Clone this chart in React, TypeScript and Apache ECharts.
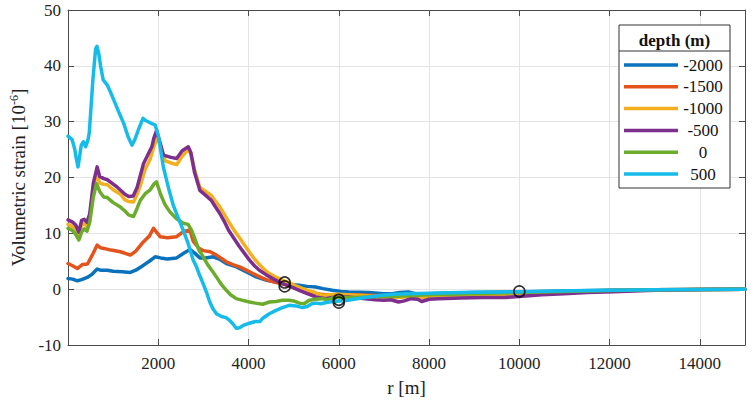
import React, { useEffect, useRef } from "react";
import * as echarts from "echarts";

const FONT = "Liberation Serif";

const depthNames = ["-2000", "-1500", "-1000", "-500", "0", "500"];
const depthColors = ["#0a72bd", "#e4531c", "#f2b01e", "#7e2f8e", "#6cac2c", "#16bce9"];

const xTicksHidden = [0, 15000];

const depthM2000: [number, number][] = [
  [0, 1.9], [100, 1.8], [205, 1.5], [300, 1.7], [425, 2.1], [520, 2.6], [645, 3.6], [720, 3.4],
  [865, 3.4], [1000, 3.2], [1200, 3.1], [1380, 3.0], [1500, 3.4], [1673, 4.3], [1800, 5.0],
  [1930, 5.8], [2050, 5.6], [2200, 5.4], [2406, 5.6], [2553, 6.4], [2700, 7.1], [2800, 6.5],
  [2920, 5.6], [3050, 5.6], [3213, 5.8], [3350, 5.4], [3507, 4.6], [3700, 4.1], [3874, 3.4],
  [4020, 2.8], [4167, 2.2], [4400, 1.6], [4607, 1.3], [4850, 0.9], [5122, 0.7], [5300, 0.5],
  [5488, 0.4], [5650, 0.1], [5855, -0.2], [6050, -0.4], [6222, -0.5], [6662, -0.6], [7000, -0.8],
  [7176, -0.8], [7350, -0.6], [7543, -0.5], [7700, -0.8], [7836, -1.0], [8000, -0.8], [8500, -0.7],
  [9000, -0.6], [10000, -0.5], [11000, -0.35], [12000, -0.2], [13000, -0.1], [14000, -0.05], [15000, 0]
];

const depthM1500: [number, number][] = [
  [0, 4.6], [100, 4.2], [205, 3.7], [315, 4.4], [430, 4.5], [530, 6.0], [645, 7.9], [720, 7.4],
  [792, 7.3], [950, 7.0], [1160, 6.7], [1380, 6.1], [1500, 6.8], [1673, 8.5], [1800, 9.5],
  [1893, 10.9], [2040, 9.4], [2200, 9.2], [2406, 9.4], [2553, 10.3], [2700, 10.6], [2773, 8.6],
  [2900, 7.3], [2993, 6.9], [3150, 6.7], [3287, 6.1], [3400, 5.5], [3507, 4.9], [3650, 4.4],
  [3800, 4.0], [3950, 3.4], [4094, 2.8], [4250, 2.2], [4387, 1.7], [4550, 1.3], [4754, 0.9],
  [4950, 0.5], [5122, 0.0], [5300, -0.4], [5488, -0.8], [5700, -1.0], [6000, -1.0], [6300, -1.0],
  [6660, -1.1], [7000, -1.2], [7300, -1.3], [7600, -1.1], [7850, -1.3], [8000, -1.1], [9000, -0.9],
  [10000, -0.7], [11000, -0.45], [12000, -0.25], [13000, -0.1], [14000, -0.05], [15000, 0]
];

const depthM1000: [number, number][] = [
  [0, 11.6], [100, 11.2], [170, 10.8], [240, 9.6], [300, 11.5], [360, 11.8], [420, 11.2], [480, 12.8],
  [560, 18.0], [630, 20.8], [700, 19.0], [790, 18.8], [870, 18.7], [1000, 17.8], [1160, 17.0],
  [1260, 16.0], [1340, 15.7], [1450, 15.6], [1530, 17.0], [1600, 18.5], [1710, 21.5], [1820, 23.3],
  [1900, 25.5], [1980, 27.2], [2060, 25.5], [2150, 23.0], [2280, 22.6], [2405, 22.3], [2530, 23.8],
  [2660, 25.0], [2720, 24.3], [2800, 21.5], [2920, 18.2], [3050, 17.5], [3175, 16.8], [3260, 15.8],
  [3360, 14.8], [3470, 13.3], [3580, 11.8], [3700, 10.3], [3800, 9.2], [3900, 8.0], [4020, 6.6],
  [4130, 5.4], [4240, 4.4], [4350, 3.5], [4460, 2.8], [4620, 2.1], [4790, 1.5], [4920, 1.1],
  [5045, 0.6], [5200, 0.1], [5340, -0.3], [5450, -0.5], [5550, -0.9], [5640, -1.1], [5800, -1.0],
  [6000, -0.9], [6200, -1.0], [6400, -1.1], [6600, -1.2], [6800, -1.3], [7000, -1.4], [7300, -1.5],
  [7600, -1.3], [7850, -1.5], [8000, -1.3], [8500, -1.2], [9000, -1.1], [9500, -1.0], [10000, -0.8],
  [11000, -0.5], [12000, -0.3], [13000, -0.15], [14000, -0.05], [15000, 0]
];

const depthM500: [number, number][] = [
  [0, 12.4], [100, 12.0], [170, 11.5], [240, 10.2], [300, 12.3], [360, 12.5], [420, 12.0], [480, 13.5],
  [560, 19.0], [645, 21.9], [700, 20.2], [792, 19.8], [870, 19.6], [1000, 18.8], [1085, 18.3],
  [1260, 17.0], [1343, 16.6], [1443, 16.7], [1530, 18.2], [1673, 22.5], [1856, 25.5], [1900, 27.0],
  [1960, 28.4], [2040, 26.2], [2113, 24.0], [2280, 23.6], [2406, 23.4], [2530, 24.8], [2663, 25.5],
  [2720, 24.5], [2800, 21.0], [2920, 17.7], [3050, 16.8], [3175, 15.9], [3260, 14.8], [3360, 13.6],
  [3470, 12.0], [3560, 10.5], [3700, 8.8], [3800, 7.6], [3900, 6.5], [4020, 5.2], [4130, 4.2],
  [4240, 3.4], [4387, 2.6], [4550, 1.8], [4754, 1.0], [4920, 0.5], [5122, -0.2], [5300, -0.8],
  [5488, -1.4], [5708, -1.7], [5850, -1.5], [6000, -1.4], [6200, -1.4], [6400, -1.6], [6600, -1.7],
  [6800, -1.9], [7000, -2.0], [7150, -1.9], [7323, -2.3], [7450, -2.1], [7600, -1.7], [7750, -1.8],
  [7836, -2.2], [8000, -1.8], [8203, -1.7], [8700, -1.6], [9200, -1.5], [9670, -1.5], [10000, -1.3],
  [10500, -1.0], [10990, -0.8], [11500, -0.6], [12090, -0.45], [13000, -0.2], [14000, -0.05], [15000, 0]
];

const depth0: [number, number][] = [
  [0, 10.9], [100, 10.5], [170, 9.8], [240, 8.8], [300, 10.2], [360, 10.8], [420, 10.4], [480, 12.0],
  [560, 16.5], [630, 18.9], [700, 17.5], [790, 16.5], [870, 16.4], [1000, 15.5], [1160, 14.7],
  [1260, 14.0], [1340, 13.3], [1450, 13.0], [1530, 14.5], [1600, 15.9], [1710, 17.1], [1820, 17.8],
  [1900, 18.8], [1960, 19.2], [2050, 17.0], [2150, 15.1], [2260, 13.8], [2405, 12.6], [2550, 11.8],
  [2660, 11.6], [2740, 10.5], [2810, 9.0], [2900, 7.0], [2993, 5.8], [3100, 4.3], [3200, 3.2],
  [3287, 2.2], [3400, 0.8], [3507, -0.2], [3600, -1.0], [3727, -1.7], [3870, -2.0], [4020, -2.3],
  [4150, -2.5], [4314, -2.7], [4460, -2.3], [4607, -2.2], [4750, -2.0], [4900, -2.0], [5000, -2.1],
  [5122, -2.5], [5230, -2.6], [5342, -2.0], [5490, -1.8], [5635, -1.7], [5750, -1.9], [5850, -1.6],
  [6000, -1.5], [6300, -1.5], [6600, -1.4], [6900, -1.3], [7200, -1.3], [7500, -1.2], [8000, -1.0],
  [9000, -0.8], [10000, -0.6], [11000, -0.4], [12000, -0.25], [13000, -0.1], [14000, -0.05], [15000, 0]
];

const depth500: [number, number][] = [
  [0, 27.4], [90, 26.8], [150, 25.0], [180, 23.5], [220, 21.9], [260, 24.0], [293, 25.8], [340, 26.4],
  [390, 25.5], [440, 26.7], [470, 28.0], [500, 31.5], [550, 37.5], [610, 43.0], [640, 43.5], [680, 42.2], [720, 40.0],
  [778, 37.5], [866, 36.6], [940, 35.3], [1012, 33.9], [1120, 31.8], [1233, 29.7], [1330, 27.3],
  [1415, 25.8], [1480, 26.8], [1560, 28.6], [1660, 30.6], [1720, 30.2], [1820, 29.8], [1930, 29.4],
  [2000, 27.5], [2060, 24.5], [2113, 21.8], [2230, 18.0], [2333, 15.0], [2450, 12.6], [2560, 10.4],
  [2660, 8.2], [2773, 5.2], [2846, 4.0], [2920, 2.4], [2993, 1.0], [3070, -0.6], [3140, -2.3],
  [3210, -3.5], [3287, -4.4], [3400, -4.9], [3500, -5.1], [3580, -5.6], [3650, -6.2], [3727, -7.0],
  [3800, -6.9], [3880, -6.5], [4020, -6.1], [4150, -5.8], [4250, -5.8], [4314, -5.2], [4460, -4.4],
  [4607, -3.8], [4750, -3.3], [4900, -2.9], [5050, -3.0], [5195, -3.3], [5300, -3.1], [5400, -2.6],
  [5488, -2.5], [5600, -2.6], [5782, -2.3], [6000, -2.1], [6200, -2.0], [6400, -1.7], [6660, -1.4],
  [6950, -1.1], [7200, -0.9], [7500, -0.8], [8000, -0.75], [8203, -0.7], [9000, -0.55], [9670, -0.5],
  [10000, -0.45], [11140, -0.3], [12000, -0.2], [13000, -0.1], [14000, -0.05], [15000, 0]
];

const seriesData = [depthM2000, depthM1500, depthM1000, depthM500, depth0, depth500];

const markerPoints: [number, number][] = [
  [4800, 1.2], [4800, 0.5], [6000, -1.9], [6000, -2.4], [10000, -0.4]
];

export default function App() {
  const ref = useRef<HTMLDivElement>(null);

  useEffect(() => {
    if (!ref.current) return;
    const chart = echarts.init(ref.current, undefined, { renderer: "svg" });

    const gridLeft = 64;
    const gridTop = 10;
    const gridRight = 9;
    const gridBottom = 58;

    const axisColor = "#4a4a4a";
    const textColor = "#222";
    const splitColor = "#e4e4e4";

    const baseX = {
      type: "value" as const,
      min: 0,
      max: 15000,
      interval: 2000,
    };
    const baseY = {
      type: "value" as const,
      min: -10,
      max: 50,
      interval: 10,
    };

    const lx = 619, ly = 25, lw = 111, lh = 163;
    const legendItems: any[] = [
      {
        type: "rect",
        shape: { x: lx, y: ly, width: lw, height: lh },
        style: { fill: "#fff", stroke: "#333", lineWidth: 1 },
        z: 100,
      },
      {
        type: "text",
        x: lx + lw / 2,
        y: ly + 15,
        style: {
          text: "depth (m)",
          fontFamily: FONT,
          fontWeight: "bold",
          fontSize: 17,
          fill: "#111",
          align: "center",
          verticalAlign: "middle",
        },
        z: 101,
      },
      {
        type: "line",
        shape: { x1: lx, y1: ly + 26, x2: lx + lw, y2: ly + 26 },
        style: { stroke: "#333", lineWidth: 1 },
        z: 101,
      },
    ];
    depthNames.forEach((name, i) => {
      const y = ly + 40 + i * 21.8;
      legendItems.push({
        type: "line",
        shape: { x1: lx + 5, y1: y, x2: lx + 59, y2: y },
        style: { stroke: depthColors[i], lineWidth: 3.5 },
        z: 101,
      });
      legendItems.push({
        type: "text",
        x: lx + 84,
        y: y,
        style: {
          text: name,
          fontFamily: FONT,
          fontSize: 17,
          fill: "#111",
          align: "center",
          verticalAlign: "middle",
        },
        z: 101,
      });
    });

    const option: any = {
      animation: false,
      backgroundColor: "#fff",
      textStyle: { fontFamily: FONT },
      grid: {
        left: gridLeft,
        top: gridTop,
        right: gridRight,
        bottom: gridBottom,
        containLabel: false,
      },
      xAxis: [
        {
          ...baseX,
          position: "bottom",
          name: "r [m]",
          nameLocation: "middle",
          nameGap: 33,
          nameTextStyle: { fontFamily: FONT, fontSize: 19, color: textColor },
          axisLine: { show: true, onZero: false, lineStyle: { color: axisColor, width: 1 } },
          axisTick: { show: true, inside: true, length: 6, lineStyle: { color: axisColor } },
          axisLabel: {
            fontFamily: FONT,
            fontSize: 17,
            color: textColor,
            margin: 10,
            formatter: (v: number) => (xTicksHidden.includes(v) ? "" : String(v)),
          },
          splitLine: { show: true, lineStyle: { color: splitColor, width: 1 } },
        },
        {
          ...baseX,
          position: "top",
          axisLine: { show: true, onZero: false, lineStyle: { color: axisColor, width: 1 } },
          axisTick: { show: true, inside: true, length: 6, lineStyle: { color: axisColor } },
          axisLabel: { show: false },
          splitLine: { show: false },
        },
      ],
      yAxis: [
        {
          ...baseY,
          position: "left",
          name: "Volumetric strain [10{sup|-6}]",
          nameLocation: "middle",
          nameGap: 35,
          nameRotate: 90,
          nameTextStyle: {
            fontFamily: FONT,
            fontSize: 19,
            color: textColor,
            rich: {
              sup: {
                fontFamily: FONT,
                fontSize: 12,
                color: textColor,
                verticalAlign: "top",
                padding: [0, 0, 8, 0],
              },
            },
          },
          axisLine: { show: true, onZero: false, lineStyle: { color: axisColor, width: 1 } },
          axisTick: { show: true, inside: true, length: 6, lineStyle: { color: axisColor } },
          axisLabel: { fontFamily: FONT, fontSize: 17, color: textColor, margin: 7 },
          splitLine: { show: true, lineStyle: { color: splitColor, width: 1 } },
        },
        {
          ...baseY,
          position: "right",
          axisLine: { show: true, onZero: false, lineStyle: { color: axisColor, width: 1 } },
          axisTick: { show: true, inside: true, length: 6, lineStyle: { color: axisColor } },
          axisLabel: { show: false },
          splitLine: { show: false },
        },
      ],
      series: [
        ...seriesData.map((data, i) => ({
          type: "line",
          name: depthNames[i],
          data,
          xAxisIndex: 0,
          yAxisIndex: 0,
          showSymbol: false,
          symbol: "none",
          smooth: false,
          lineStyle: { color: depthColors[i], width: 3.5, join: "round", cap: "round" },
          itemStyle: { color: depthColors[i] },
          z: 2 + i,
        })),
        {
          type: "scatter",
          name: "markers",
          data: markerPoints,
          xAxisIndex: 0,
          yAxisIndex: 0,
          symbol: "circle",
          symbolSize: 11,
          itemStyle: { color: "rgba(0,0,0,0)", borderColor: "#000", borderWidth: 1.6 },
          z: 20,
        },
      ],
      graphic: legendItems,
    };

    chart.setOption(option);
    return () => {
      chart.dispose();
    };
  }, []);

  return (
    <div
      ref={ref}
      style={{ position: "absolute", left: 0, top: 0, width: 754, height: 403 }}
    />
  );
}
